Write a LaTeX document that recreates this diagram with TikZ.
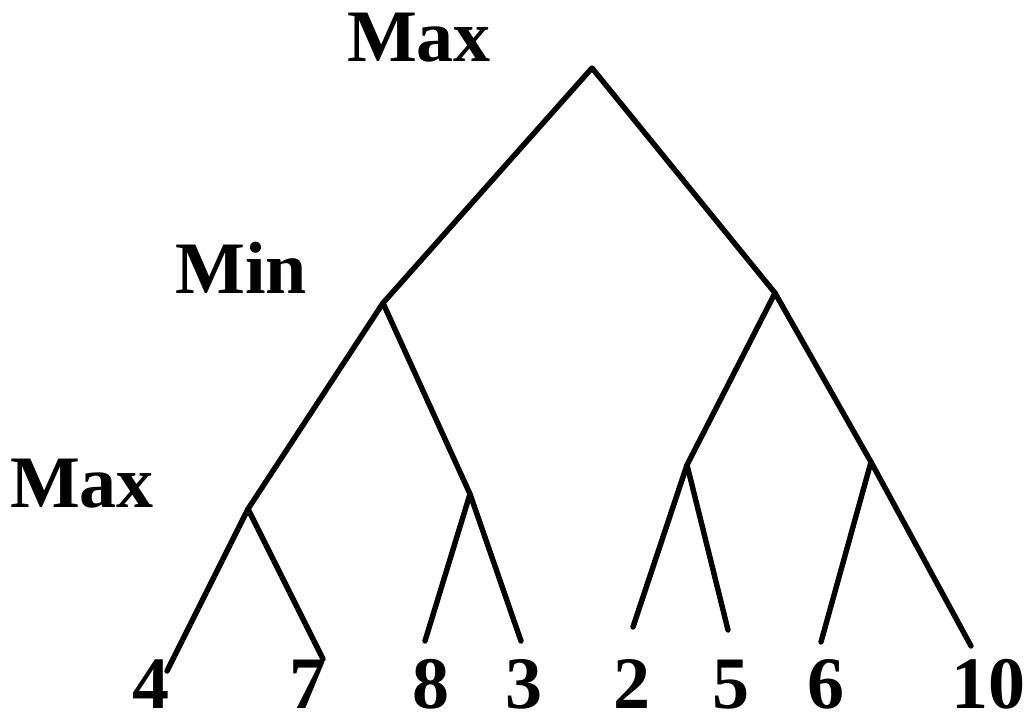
\documentclass[tikz,border=0pt]{standalone}
\usepackage{fontspec}
\setmainfont{Liberation Serif}
\begin{document}
\begin{tikzpicture}[x=1pt,y=-1pt,
  edge/.style={line width=5.4pt,line cap=round,line join=round},
  lbl/.style={inner sep=0pt,anchor=base,font=\fontsize{74}{80}\selectfont\bfseries}]
\useasboundingbox (0,0) rectangle (1031,717);
% tree points
\coordinate (r) at (592,68);
\coordinate (mL) at (383,303);
\coordinate (mR) at (775,293);
\coordinate (a) at (248,509);
\coordinate (b) at (470,494);
\coordinate (c) at (687,465);
\coordinate (d) at (871,462);
\coordinate (l1) at (167,671);
\coordinate (l2) at (323,659);
\coordinate (l3) at (425,641);
\coordinate (l4) at (521,641);
\coordinate (l5) at (633,627);
\coordinate (l6) at (728,630);
\coordinate (l7) at (821,642);
\coordinate (l8) at (971,646);
% edges
\draw[edge] (mL) -- (r) -- (mR);
\draw[edge] (a) -- (mL) -- (b);
\draw[edge] (c) -- (mR) -- (d);
\draw[edge] (l1) -- (a) -- (l2);
\draw[edge] (l3) -- (b) -- (l4);
\draw[edge] (l5) -- (c) -- (l6);
\draw[edge] (l7) -- (d) -- (l8);
% level labels
\node[lbl] (t1) at (419,62) {Max};
\node[lbl] (t2) at (241,293) {Min};
\node[lbl] (t3) at (82,507) {Max};
% leaf values
\node[lbl] (v1) at (151,708) {4};
\node[lbl] (v2) at (308,708) {7};
\node[lbl] (v3) at (431,708) {8};
\node[lbl] (v4) at (524,708) {3};
\node[lbl] (v5) at (632,708) {2};
\node[lbl] (v6) at (731,708) {5};
\node[lbl] (v7) at (826,708) {6};
\node[lbl] (v8) at (988,708) {10};
\end{tikzpicture}
\end{document}
